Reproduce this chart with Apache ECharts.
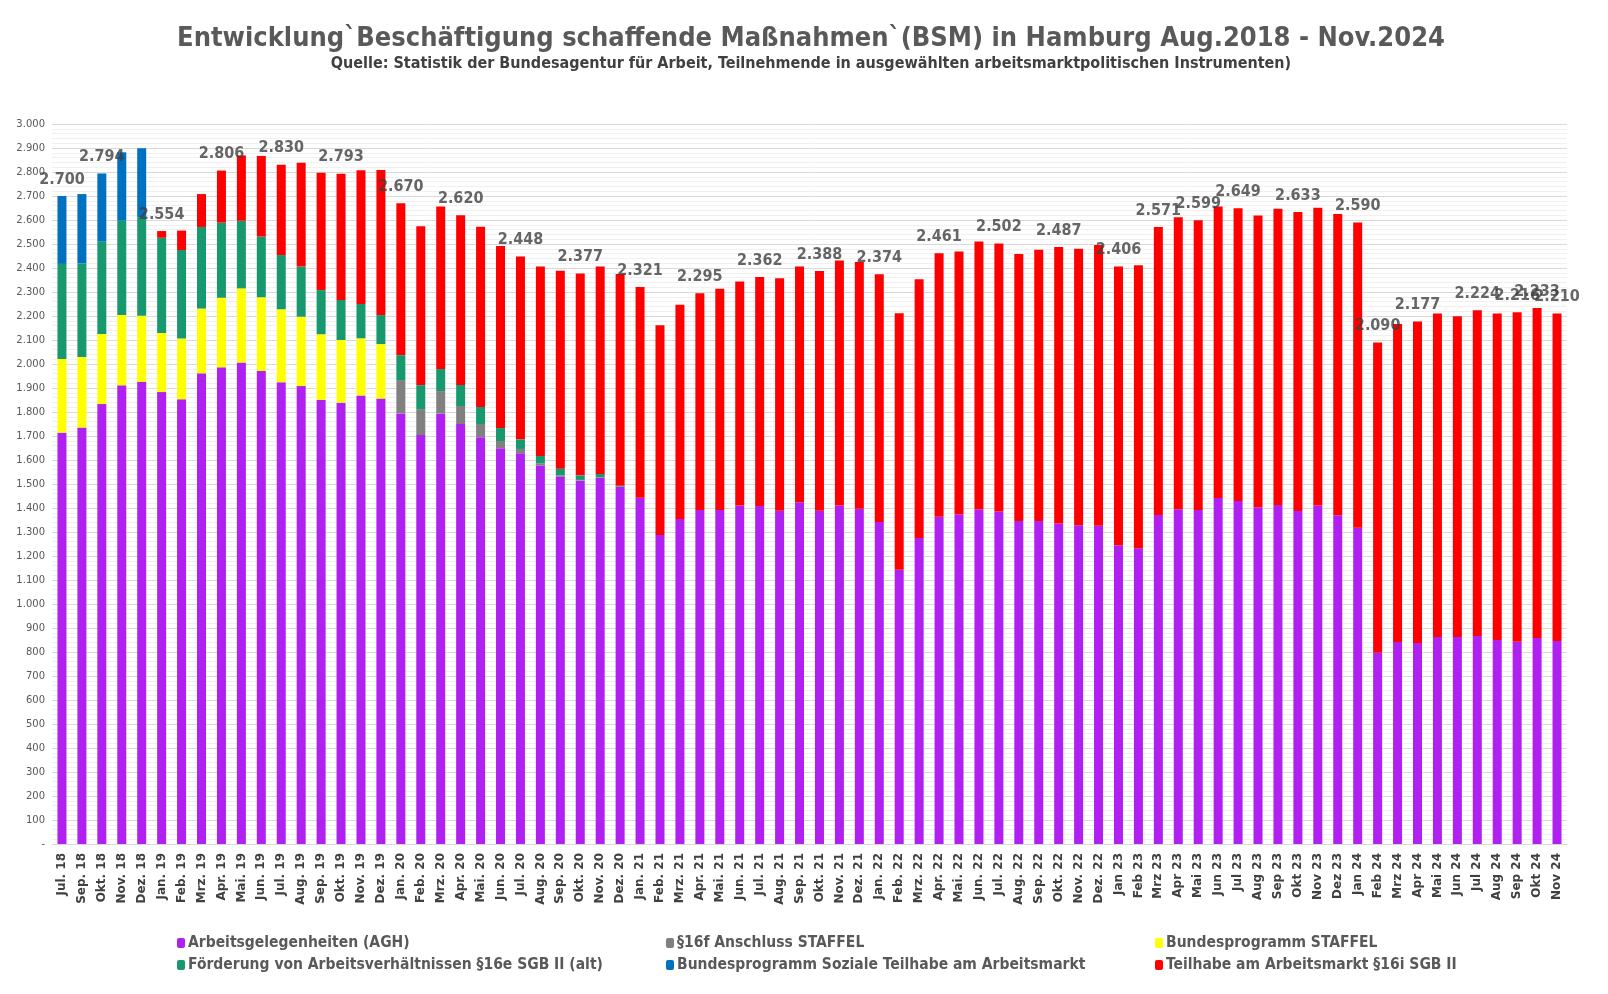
<!DOCTYPE html>
<html>
<head>
<meta charset="utf-8">
<script src="https://cdn.jsdelivr.net/npm/echarts@6/dist/echarts.min.js"></script>
<style>html,body{margin:0;padding:0;background:#fff}#c{width:1608px;height:994px}</style>
</head>
<body>
<div id="c"></div>
<script>
const categories = ["Jul. 18","Sep. 18","Okt. 18","Nov. 18","Dez. 18","Jan. 19","Feb. 19","Mrz. 19","Apr. 19","Mai. 19","Jun. 19","Jul. 19","Aug. 19","Sep. 19","Okt. 19","Nov. 19","Dez. 19","Jan. 20","Feb. 20","Mrz. 20","Apr. 20","Mai. 20","Jun. 20","Jul. 20","Aug. 20","Sep. 20","Okt. 20","Nov. 20","Dez. 20","Jan. 21","Feb. 21","Mrz. 21","Apr. 21","Mai. 21","Jun. 21","Jul. 21","Aug. 21","Sep. 21","Okt. 21","Nov. 21","Dez. 21","Jan. 22","Feb. 22","Mrz. 22","Apr. 22","Mai. 22","Jun. 22","Jul. 22","Aug. 22","Sep. 22","Okt. 22","Nov. 22","Dez. 22","Jan 23","Feb 23","Mrz 23","Apr 23","Mai 23","Jun 23","Jul 23","Aug 23","Sep 23","Okt 23","Nov 23","Dez 23","Jan 24","Feb 24","Mrz 24","Apr 24","Mai 24","Jun 24","Jul 24","Aug 24","Sep 24","Okt 24","Nov 24"];

const seriesNames = ["Arbeitsgelegenheiten (AGH)","§16f Anschluss STAFFEL","Bundesprogramm STAFFEL","Förderung von Arbeitsverhältnissen §16e SGB II (alt)","Bundesprogramm Soziale Teilhabe am Arbeitsmarkt","Teilhabe am Arbeitsmarkt §16i SGB II"];

const agh = [1714,1735,1833,1911,1925,1883,1853,1961,1986,2006,
 1971,1924,1908,1850,1839,1869,1856,1794,1704,1794,
 1750,1695,1649,1628,1577,1530,1514,1526,1489,1443,
 1288,1354,1392,1392,1410,1408,1389,1424,1389,1410,
 1397,1342,1143,1275,1364,1374,1395,1385,1346,1346,
 1335,1328,1326,1245,1232,1371,1395,1392,1442,1429,
 1403,1413,1388,1410,1370,1318,797,842,838,863,
 863,867,850,843,858,846];

const anschluss16f = [0,0,0,0,0,0,0,0,0,0,
 0,0,0,0,0,0,0,139,108,93,
 75,55,30,18,8,6,3,2,0,0,
 0,0,0,0,0,0,0,0,0,0,
 0,0,0,0,0,0,0,0,0,0,
 0,0,0,0,0,0,0,0,0,0,
 0,0,0,0,0,0,0,0,0,0,
 0,0,0,0,0,0];

const staffel = [307,294,292,293,276,246,253,270,290,309,
 307,304,289,274,261,238,227,0,0,0,
 0,0,0,0,0,0,0,0,0,0,
 0,0,0,0,0,0,0,0,0,0,
 0,0,0,0,0,0,0,0,0,0,
 0,0,0,0,0,0,0,0,0,0,
 0,0,0,0,0,0,0,0,0,0,
 0,0,0,0,0,0];

const foerderung16e = [396,390,385,393,410,397,369,340,313,282,
 253,226,209,184,167,143,121,104,100,92,
 88,71,54,40,32,28,19,14,4,0,
 0,0,0,0,0,0,0,0,0,0,
 0,0,0,0,0,0,0,0,0,0,
 0,0,0,0,0,0,0,0,0,0,
 0,0,0,0,0,0,0,0,0,0,
 0,0,0,0,0,0];

const sozialeTeilhabe = [283,289,284,285,288,0,0,0,0,0,
 0,0,0,0,0,0,0,0,0,0,
 0,0,0,0,0,0,0,0,0,0,
 0,0,0,0,0,0,0,0,0,0,
 0,0,0,0,0,0,0,0,0,0,
 0,0,0,0,0,0,0,0,0,0,
 0,0,0,0,0,0,0,0,0,0,
 0,0,0,0,0,0];

const teilhabe16i = [0,0,0,0,0,28,81,137,217,272,
 336,376,433,489,526,557,604,633,662,677,
 707,751,759,762,789,825,841,864,882,878,
 873,893,903,922,934,954,968,982,999,1021,
 1028,1032,1068,1078,1097,1095,1115,1117,1112,1130,
 1152,1152,1170,1161,1179,1200,1216,1207,1214,1220,
 1216,1234,1245,1241,1255,1272,1293,1325,1339,1347,
 1336,1357,1360,1373,1375,1364];

const labelledMonths = ["Jul. 18","Okt. 18","Jan. 19","Apr. 19","Jul. 19","Okt. 19","Jan. 20","Apr. 20","Jul. 20","Okt. 20","Jan. 21","Apr. 21","Jul. 21","Okt. 21","Jan. 22","Apr. 22","Jul. 22","Okt. 22","Jan 23","Mrz 23","Mai 23","Jul 23","Okt 23","Jan 24","Feb 24","Apr 24","Jul 24","Sep 24","Okt 24","Nov 24"];

const titleText = "Entwicklung`Beschäftigung schaffende Maßnahmen`(BSM) in Hamburg Aug.2018 - Nov.2024";
const subtitleText = "Quelle: Statistik der Bundesagentur für Arbeit, Teilnehmende in ausgewählten arbeitsmarktpolitischen Instrumenten)";

const seriesData = [agh, anschluss16f, staffel, foerderung16e, sozialeTeilhabe, teilhabe16i];
const colors = ["#B020F0","#808080","#FFFF00","#18986E","#0070C0","#FF0000"];

function fmt(v){
  if (v === 0) return "-";
  return String(Math.round(v)).replace(/\B(?=(\d{3})+(?!\d))/g, ".");
}

const totals = categories.map((c, i) => seriesData.reduce((s, arr) => s + arr[i], 0));
const labelPoints = labelledMonths.map(m => {
  const i = categories.indexOf(m);
  return [i, totals[i]];
});

const FONT = "'DejaVu Sans Condensed','DejaVu Sans',sans-serif";

const barSeries = seriesNames.map((name, k) => ({
  name: name,
  type: 'bar',
  stack: 'total',
  barWidth: 9,
  data: seriesData[k],
  itemStyle: { color: colors[k] },
  emphasis: { disabled: true },
  animation: false
}));

const legendPos = [
  {left: 177, top: 935}, {left: 666, top: 935}, {left: 1155, top: 935},
  {left: 177, top: 957}, {left: 666, top: 957}, {left: 1155, top: 957}
];
const legends = seriesNames.map((name, k) => ({
  data: [name],
  left: legendPos[k].left,
  top: legendPos[k].top,
  padding: 0,
  itemWidth: 8,
  itemHeight: 10,
  itemGap: 0,
  selectedMode: false,
  textStyle: { color: '#595959', fontSize: 15.5, fontWeight: 'bold', fontFamily: FONT, padding: [0,0,0,-2] }
}));

const chart = echarts.init(document.getElementById('c'), null, {renderer: 'canvas'});
chart.setOption({
  backgroundColor: '#ffffff',
  animation: false,
  graphic: [
    { type: 'text', x: 811, y: 39, silent: true,
      style: { text: titleText, textAlign: 'center', textVerticalAlign: 'middle',
        fill: '#595959', fontSize: 27, fontWeight: 'bold', fontFamily: FONT } },
    { type: 'text', x: 811, y: 64, silent: true,
      style: { text: subtitleText, textAlign: 'center', textVerticalAlign: 'middle',
        fill: '#404040', fontSize: 16, fontWeight: 'bold', fontFamily: FONT } }
  ],
  legend: legends,
  grid: { left: 52, right: 41, top: 124, bottom: 150, containLabel: false },
  xAxis: {
    type: 'category',
    data: categories,
    axisTick: { show: false },
    axisLine: { lineStyle: { color: '#D9D9D9', width: 1 } },
    axisLabel: { rotate: 90, interval: 0, color: '#404040', fontSize: 12, fontWeight: 'bold', fontFamily: "'DejaVu Sans',sans-serif", margin: 9 }
  },
  yAxis: {
    type: 'value',
    min: 0, max: 3000, interval: 100,
    axisLine: { show: false },
    axisTick: { show: false },
    axisLabel: { color: '#595959', fontSize: 10, fontFamily: "'DejaVu Sans',sans-serif", margin: 7, formatter: fmt },
    splitLine: { lineStyle: { color: '#D9D9D9', width: 1 } },
    minorTick: { show: false, splitNumber: 5 },
    minorSplitLine: { show: true, lineStyle: { color: '#F0F0F0', width: 1 } }
  },
  series: barSeries.concat([{
    name: 'Summe',
    type: 'scatter',
    data: labelPoints,
    symbolSize: 1,
    itemStyle: { color: 'rgba(0,0,0,0)' },
    silent: true,
    z: 10,
    label: {
      show: true, position: 'top', distance: 8,
      color: '#404040', fontSize: 16, fontWeight: 'bold', fontFamily: FONT,
      formatter: p => fmt(p.value[1])
    }
  }])
});
</script>
</body>
</html>
